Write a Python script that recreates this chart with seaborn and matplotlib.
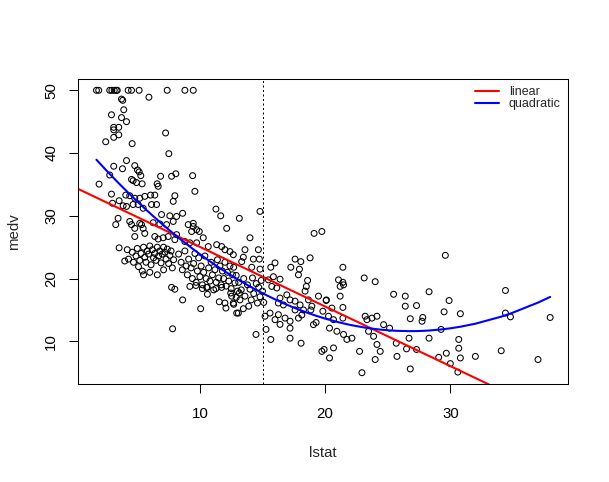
import numpy as np
import pandas as pd
import matplotlib
matplotlib.use("Agg")
import matplotlib.pyplot as plt
import seaborn as sns
from matplotlib.lines import Line2D

# ---- data (lstat, medv) ----
lstat = [
    1.74, 1.92, 2.8, 2.97, 3.16, 3.32, 3.4, 4.27, 4.54, 5.15, 7.39, 8.8, 9.47,
    3.74, 3.84, 5.93, 3.92, 2.94, 3.74, 4.14, 3.12, 3.52, 3.12, 3.52, 3.12, 2.48, 4.59, 7.26,
    7.52, 4.14, 3.12, 3.82, 4.8, 5.02, 5.15, 2.8, 5.28, 6.86, 7.74, 8.08, 9.42, 4.54,
    1.95, 4.67, 4.94, 5.39, 6.59, 6.67, 2.94, 4.08, 4.4, 4.8, 5.2, 5.6, 6.06, 6.4, 8.0, 7.87,
    9.6, 3.02, 3.55, 3.87, 4.14, 4.67, 5.07, 5.47, 6.14, 6.54, 8.62, 11.28, 11.66, 6.94, 7.6,
    8.14, 3.47, 3.28, 4.4, 4.54, 5.2, 5.34, 6.27, 6.8, 7.87, 7.34, 9.07, 9.47, 9.74, 9.34,
    9.95, 9.47, 12.14, 4.8, 5.47, 3.55, 4.8, 5.6, 6.4, 6.67, 7.07, 7.47, 8.14, 8.0, 8.8, 9.2,
    10.27, 9.74, 10.67, 11.34, 11.74, 12.0, 12.4, 12.67,
    4.6, 4.9, 5.0, 5.2, 5.3, 5.5, 5.6, 5.7, 5.8, 5.9, 6.0, 6.1, 6.2, 6.3, 6.4, 6.5, 6.6, 6.7,
    6.8, 6.9, 7.0, 7.1, 7.2, 7.3, 7.4, 7.5, 7.6, 7.7, 7.8, 7.9, 5.1, 5.4, 6.0, 6.6, 7.1, 5.5,
    4.7, 4.3, 4.0, 4.2,
    8.3, 8.5, 8.6, 8.8, 8.9, 9.0, 9.1, 9.3, 9.4, 9.5, 9.6, 9.7, 9.8, 9.9, 10.0, 10.1, 10.2,
    10.3, 10.4, 10.5, 10.6, 10.7, 10.8, 10.9, 11.0, 11.1, 11.2, 11.3, 11.4, 11.5, 11.6, 11.7,
    11.8, 11.9, 12.0, 12.1, 12.2, 12.3, 12.4, 12.5, 12.6, 12.7, 12.8, 12.9, 13.0,
    13.1, 13.3, 13.5, 13.6, 13.8, 14.0, 14.1, 14.2, 14.3, 14.5, 14.6, 14.7, 14.8, 14.9, 15.0,
    13.2, 13.9, 12.9, 12.7, 15.1,
    7.82, 8.62, 10.06, 7.74, 8.0, 9.2, 9.68, 10.2, 10.54, 10.6, 11.28, 11.74, 11.55, 12.0,
    12.08, 12.46, 12.54, 12.67, 12.94,
    14.8, 13.15, 14.0, 19.12, 19.74, 13.6, 14.67, 13.47, 14.27, 14.75, 13.34, 17.6, 18.06,
    18.8, 16.0, 15.66, 14.8, 14.14, 17.26, 17.95, 17.87, 21.42, 18.6, 21.07, 21.42, 23.12,
    24.0, 15.87, 16.4, 15.47,
    13.15, 13.47, 13.07, 15.2, 15.28, 14.48, 15.66, 15.74, 16.14, 16.4, 16.94, 16.27, 16.67,
    15.6, 16.27, 16.0, 16.4, 16.8, 17.2, 17.2, 17.2, 18.08, 17.2, 17.6, 18.0, 18.27, 17.6,
    18.14, 17.87, 18.4, 18.5, 18.67, 18.94, 18.86, 19.28, 19.07, 19.47, 20.08, 19.82, 19.74,
    19.92, 20.35, 20.67, 20.35, 20.94, 21.47, 21.74, 22.14, 20.27, 20.67, 20.54, 21.2, 21.42,
    21.42, 20.1, 21.2, 21.47, 22.75, 22.94, 23.2, 23.34, 23.74, 24.14, 23.47, 23.87, 24.14,
    24.4, 24.0, 24.67, 25.15, 25.47, 25.68, 25.74,
    26.4, 28.3, 26.4, 27.3, 29.9, 34.4, 26.8, 27.8, 27.74, 29.5, 30.8, 34.4, 34.8, 37.97,
    29.26, 26.7, 28.3, 26.5, 27.3, 26.8, 29.07, 29.68, 30.0, 30.6, 30.67, 30.67, 30.8, 32.0,
    34.06, 37.0, 29.6,
]
medv = [
    50, 50, 50, 50, 50, 50, 50, 50, 50, 50, 50, 50, 50,
    48.6, 48.4, 48.9, 46.9, 46.1, 45.65, 45.0, 44.1, 44.1, 43.7, 42.9, 42.5, 41.8, 41.5, 43.2,
    39.9, 38.8, 37.9, 37.5, 38.0, 37.3, 37.0, 36.5, 36.4, 36.3, 36.3, 36.7, 36.4, 35.8,
    35.05, 35.6, 35.3, 35.1, 35.1, 34.7, 33.46, 33.3, 33.2, 32.8, 32.8, 33.1, 33.3, 33.3, 33.2, 32.3,
    33.9, 32.0, 32.4, 31.6, 31.5, 31.8, 31.8, 31.2, 31.8, 31.8, 30.4, 31.07, 30.0, 30.2, 30.0,
    29.9, 29.6, 28.6, 29.1, 28.6, 28.8, 28.6, 28.9, 28.7, 29.1, 28.6, 28.6, 28.3, 27.8, 27.5,
    27.5, 28.8, 28.0, 28.0, 28.0, 24.9, 26.7, 27.2, 26.7, 26.3, 26.5, 26.7, 27.0, 26.2, 25.9, 25.7,
    26.5, 25.7, 25.1, 25.4, 25.1, 24.6, 24.3, 23.8,
    24.2, 23.6, 24.8, 22.9, 24.0, 25.0, 23.4, 22.6, 24.4, 23.9, 25.2, 22.2, 24.6, 23.3, 24.0, 22.9, 25.0, 23.6,
    24.4, 22.5, 23.9, 25.0, 24.2, 23.1, 24.7, 22.4, 23.7, 24.4, 21.7, 23.0, 21.9, 21.2, 21.0, 20.6, 21.4, 20.6,
    22.6, 23.1, 22.8, 24.6,
    23.9, 22.6, 21.4, 24.4, 22.0, 20.6, 23.1, 21.7, 20.0, 22.4, 24.0, 19.4, 21.2, 23.3, 20.3, 22.0, 19.0,
    21.0, 23.6, 20.0, 18.6, 21.7, 19.6, 22.6, 20.6, 18.2, 21.4, 19.4, 23.0, 20.1, 22.0, 19.0,
    21.2, 20.0, 22.6, 18.8, 21.0, 19.6, 22.0, 18.4, 20.6, 21.8, 19.3, 20.5, 18.0,
    19.4, 18.2, 20.0, 17.2, 19.0, 18.3, 16.6, 20.1, 17.6, 19.2, 16.1, 18.6, 17.1, 19.7, 18.0,
    16.6, 15.6, 17.0, 15.9, 16.2,
    12.0, 16.6, 15.2, 18.6, 18.3, 18.75, 18.9, 18.4, 18.6, 17.5, 18.4, 18.6, 16.3, 16.1,
    15.3, 17.7, 17.2, 16.1, 14.5,
    30.7, 29.6, 26.5, 27.2, 27.5, 24.6, 24.6, 23.4, 23.1, 23.1, 22.7, 23.1, 22.7,
    23.3, 22.5, 21.8, 21.5, 21.8, 21.8, 21.5, 20.6, 21.8, 19.7, 19.8, 19.4, 20.1,
    19.5, 20.3, 19.9, 19.8,
    17.7, 15.2, 14.5, 14.0, 11.9, 11.1, 10.3, 18.75, 18.5, 16.9, 17.4, 16.1, 15.8,
    14.5, 14.25, 13.45, 12.7, 13.7, 13.2, 12.1, 10.5, 9.7, 16.6, 16.4, 15.8, 15.0, 15.0,
    14.2, 13.7, 18.0, 18.75, 16.6, 15.6, 15.0, 13.0, 12.66, 17.2, 16.5, 14.8, 8.4,
    8.7, 7.35, 8.95, 12.1, 11.6, 11.1, 10.3, 10.5, 14.0, 13.45, 15.3, 17.2, 15.4,
    13.7, 16.6, 18.75, 19.0, 8.4, 5.0, 14.0, 13.45, 13.7, 14.0, 11.6, 10.8, 9.5,
    8.4, 7.1, 12.66, 12.1, 17.5, 9.7, 7.6,
    17.2, 17.9, 15.6, 15.7, 16.5, 18.1, 13.6, 13.8, 13.2, 14.7, 14.4, 14.5, 13.9, 13.8,
    11.9, 10.5, 10.5, 8.8, 8.7, 5.6, 7.45, 8.1, 6.45, 5.1, 10.3, 8.9, 7.35, 7.6,
    8.5, 7.1, 23.7,
]

# fitted model coefficients (medv ~ lstat, medv ~ lstat + lstat^2)
linear_coef = [34.55, -0.95]
quad_coef = [42.862, -2.3328, 0.04355]
cutoff = 15
legend_labels = ["linear", "quadratic"]
x_ticks = [10, 20, 30]
y_ticks = [10, 20, 30, 40, 50]

df = pd.DataFrame({"lstat": lstat, "medv": medv})

sns.set_style("white")
plt.rcParams["font.family"] = ["Liberation Sans", "DejaVu Sans"]

W, H = 609, 482
fig = plt.figure(figsize=(W / 100, H / 100), dpi=100)
L, R, T, B = 78.3, 568.3, 79.0, 384.0
ax = fig.add_axes([L / W, 1 - B / H, (R - L) / W, (B - T) / H])

sns.scatterplot(data=df, x="lstat", y="medv", ax=ax, marker="o", s=18,
                facecolor="none", edgecolor="black", linewidth=0.75)

xmin, xmax = min(lstat), max(lstat)
xpad = 0.04 * (xmax - xmin)
ymin, ymax = min(medv), max(medv)
ypad = 0.04 * (ymax - ymin)
ax.set_xlim(xmin - xpad, xmax + xpad)
ax.set_ylim(ymin - ypad, ymax + ypad)

xl = np.array(ax.get_xlim())
sns.lineplot(x=xl, y=linear_coef[0] + linear_coef[1] * xl, ax=ax, color="red",
             linewidth=1.5, estimator=None)
xs = np.sort(np.array(lstat))
ys = quad_coef[0] + quad_coef[1] * xs + quad_coef[2] * xs ** 2
sns.lineplot(x=xs, y=ys, ax=ax, color="blue", linewidth=1.5, estimator=None, sort=True)
ax.axvline(cutoff, color="black", linewidth=0.72, linestyle=(0, (2, 2.5)))

ax.set_xlim(xmin - xpad, xmax + xpad)
ax.set_ylim(ymin - ypad, ymax + ypad)

for sp in ax.spines.values():
    sp.set_visible(True)
    sp.set_color("black")
    sp.set_linewidth(0.75)

ax.set_xticks(x_ticks)
ax.set_yticks(y_ticks)
ax.set_yticklabels([str(v) for v in y_ticks], rotation=90, va="center")
ax.tick_params(axis="both", direction="out", length=6.5, width=0.75, color="black",
               labelsize=10.8, labelcolor="black", bottom=True, left=True)
ax.tick_params(axis="x", pad=10)
ax.tick_params(axis="y", pad=8)
ax.set_xlabel("lstat", fontsize=10.8, labelpad=18)
ax.set_ylabel("medv", fontsize=10.8, labelpad=17)

handles = [Line2D([0], [0], color="red", lw=1.5), Line2D([0], [0], color="blue", lw=1.5)]
ax.legend(handles, legend_labels, loc="upper left", bbox_to_anchor=(475 / W, 1 - 86 / H),
          bbox_transform=fig.transFigure, frameon=False, fontsize=9, borderpad=0,
          borderaxespad=0, handlelength=1.9, handletextpad=0.8, labelspacing=0.0)

fig.savefig("out.png", dpi=100)
